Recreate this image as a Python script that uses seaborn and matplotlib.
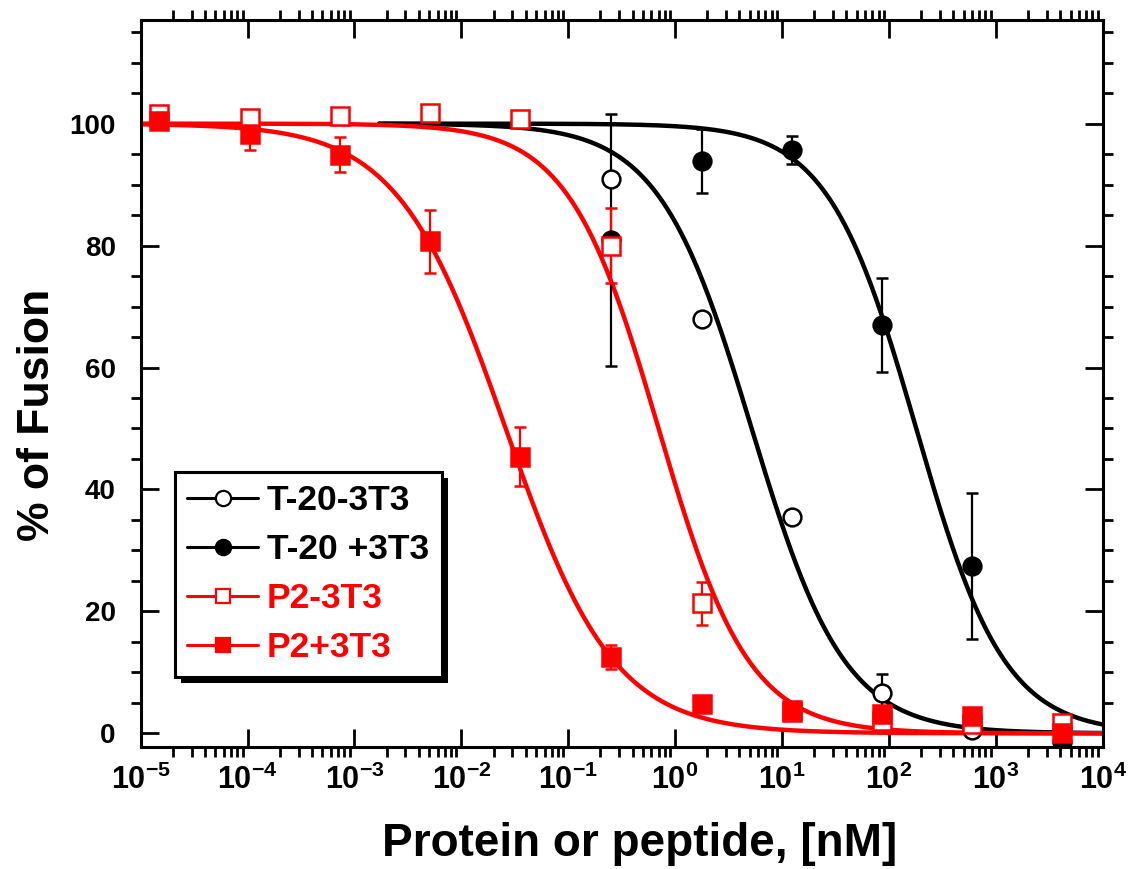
import numpy as np
import pandas as pd
import matplotlib
matplotlib.use('Agg')
import matplotlib.pyplot as plt
from matplotlib.lines import Line2D
from matplotlib.patches import Rectangle
from matplotlib.transforms import IdentityTransform
from matplotlib.ticker import FixedLocator, LogLocator, MultipleLocator, NullFormatter
import seaborn as sns

# concentrations of the dilution series (nM)
conc_p2  = [1.5e-5, 1.05e-4, 7.3e-4, 5.1e-3, 0.035, 0.25, 1.78, 12.4, 86, 600, 4150]
conc_t20 = [0.25, 1.78, 12.4, 86, 600, 4150]

p2_plus_y    = [100.5, 98.3, 94.9, 80.7, 45.4, 12.5, 4.8, 3.8, 3.2, 2.9, 0.1]
p2_plus_err  = [0.0, 2.7, 2.9, 5.2, 4.8, 2.0, 0.0, 0.0, 0.0, 0.0, 0.0]
p2_minus_y   = [101.5, 101.0, 101.3, 101.8, 100.8, 80.0, 21.3, 3.5, 2.1, 1.5, 1.7]
p2_minus_err = [0.5, 0.8, 0.6, 0.5, 0.4, 6.2, 3.6, 0.0, 0.0, 0.0, 0.0]

t20_minus_y   = [91.0, 68.0, 35.4, 6.6, 0.5, 0.3]
t20_minus_err = [0.5, 0.8, 0.5, 3.1, 0.3, 0.0]
t20_plus_y    = [80.9, 93.9, 95.6, 66.9, 27.4, -1.5]
t20_plus_err  = [20.7, 5.3, 2.3, 7.7, 12.0, 0.0]

# fitted dose-response curves (IC50 in nM, Hill slope, first x of the fit line)
series_names = ['T-20-3T3', 'T-20 +3T3', 'P2-3T3', 'P2+3T3']
series_colors = ['#000000', '#000000', '#ff0000', '#ff0000']
ic50        = [5.2, 180.0, 0.70, 0.026]
hill_slope  = [1.0, 1.05, 1.03, 0.86]
fit_start   = [1.7e-3, 1.7e-3, 1e-5, 1e-5]

xtick_values = [1e-5, 1e-4, 1e-3, 1e-2, 1e-1, 1e0, 1e1, 1e2, 1e3, 1e4]
xtick_labels = [r'$\mathbf{10^{-5}}$', r'$\mathbf{10^{-4}}$', r'$\mathbf{10^{-3}}$',
                r'$\mathbf{10^{-2}}$', r'$\mathbf{10^{-1}}$', r'$\mathbf{10^{0}}$',
                r'$\mathbf{10^{1}}$', r'$\mathbf{10^{2}}$', r'$\mathbf{10^{3}}$',
                r'$\mathbf{10^{4}}$']
ytick_values = [0, 20, 40, 60, 80, 100]

sns.set_theme(style='ticks')
plt.rcParams['font.family'] = ['Liberation Sans', 'DejaVu Sans']
plt.rcParams['mathtext.fontset'] = 'custom'
plt.rcParams['mathtext.rm'] = 'Liberation Sans:bold'
plt.rcParams['mathtext.bf'] = 'Liberation Sans:bold'
plt.rcParams['mathtext.it'] = 'Liberation Sans:bold'
for key in ['text.color', 'axes.labelcolor', 'xtick.color', 'ytick.color', 'axes.edgecolor']:
    plt.rcParams[key] = 'black'

fig = plt.figure(figsize=(11.29, 8.69), dpi=100)
ax = fig.add_axes([0.1246, 0.1407, 0.8521, 0.8363])
ax.set_xscale('log')

# fit lines
frames = []
for name, c50, n, x0 in zip(series_names, ic50, hill_slope, fit_start):
    xs = np.logspace(np.log10(x0), 4, 400)
    frames.append(pd.DataFrame({'conc': xs,
                                'fusion': 100.0 / (1.0 + (xs / c50) ** n),
                                'series': name}))
curves = pd.concat(frames, ignore_index=True)
sns.lineplot(data=curves, x='conc', y='fusion', hue='series',
             palette=dict(zip(series_names, series_colors)),
             hue_order=series_names, estimator=None, sort=False,
             linewidth=3.2, legend=False, ax=ax, zorder=2)

# data points
pts = [
    (conc_t20, t20_minus_y, t20_minus_err, 'o', 'white', '#000000'),
    (conc_t20, t20_plus_y, t20_plus_err, 'o', '#000000', '#000000'),
    (conc_p2, p2_minus_y, p2_minus_err, 's', 'white', '#ff0000'),
    (conc_p2, p2_plus_y, p2_plus_err, 's', '#ff0000', '#ff0000'),
]
for x, y, e, mk, fc, col in pts:
    ax.errorbar(x, y, yerr=e, fmt=mk, ms=12.8, mfc=fc, mec=col, mew=1.8,
                ecolor=col, elinewidth=1.6, capsize=4.5, capthick=1.6,
                zorder=3, clip_on=True)

ax.set_xlim(1e-5, 1e4)
ax.set_ylim(-2.2, 117)
ax.xaxis.set_major_locator(FixedLocator(xtick_values))
ax.set_xticklabels(xtick_labels)
ax.xaxis.set_minor_locator(LogLocator(base=10, subs=np.arange(2, 10), numticks=100))
ax.xaxis.set_minor_formatter(NullFormatter())
ax.set_yticks(ytick_values)
ax.set_yticklabels([str(v) for v in ytick_values])
ax.yaxis.set_minor_locator(MultipleLocator(5))

ax.tick_params(which='major', direction='in', length=13, width=2,
               top=True, right=True)
ax.tick_params(which='minor', direction='out', length=7, width=2,
               top=True, right=True)
ax.tick_params(axis='x', which='major', labelsize=22, pad=13)
ax.tick_params(axis='y', which='major', labelsize=20, pad=18)
for lbl in ax.get_yticklabels():
    lbl.set_fontweight('bold')
for sp in ax.spines.values():
    sp.set_linewidth(2.2)

ax.set_xlabel('Protein or peptide, [nM]', fontsize=33, fontweight='bold')
ax.set_ylabel('% of Fusion', fontsize=32, fontweight='bold')
ax.xaxis.set_label_coords(0.519, -0.103)
ax.yaxis.set_label_coords(-0.086, 0.457)

handles = []
for name, col, mk, fc in zip(series_names, series_colors, ['o', 'o', 's', 's'],
                             ['white', '#000000', 'white', '#ff0000']):
    handles.append(Line2D([], [], color=col, lw=2.2, marker=mk,
                          ms=11 if mk == 'o' else 10, mfc=fc, mec=col, mew=1.6))
leg = ax.legend(handles, series_names, loc='upper left',
                bbox_to_anchor=(0.0357, 0.378), frameon=True, fancybox=False,
                edgecolor='black', framealpha=1, borderaxespad=0,
                prop={'weight': 'bold', 'size': 25.5}, handlelength=2.0,
                handletextpad=0.25, labelspacing=0.45, borderpad=0.35)
leg.get_frame().set_linewidth(2.2)
for t, c in zip(leg.get_texts(), series_colors):
    t.set_color(c)
leg.set_zorder(6)

# solid drop shadow behind the legend box
fig.canvas.draw()
bb = leg.get_window_extent()
ax.add_patch(Rectangle((bb.x0 + 6, bb.y0 - 6), bb.width, bb.height,
                       transform=IdentityTransform(), facecolor='black',
                       edgecolor='none', zorder=5.5))

fig.savefig('out.png', dpi=100)
